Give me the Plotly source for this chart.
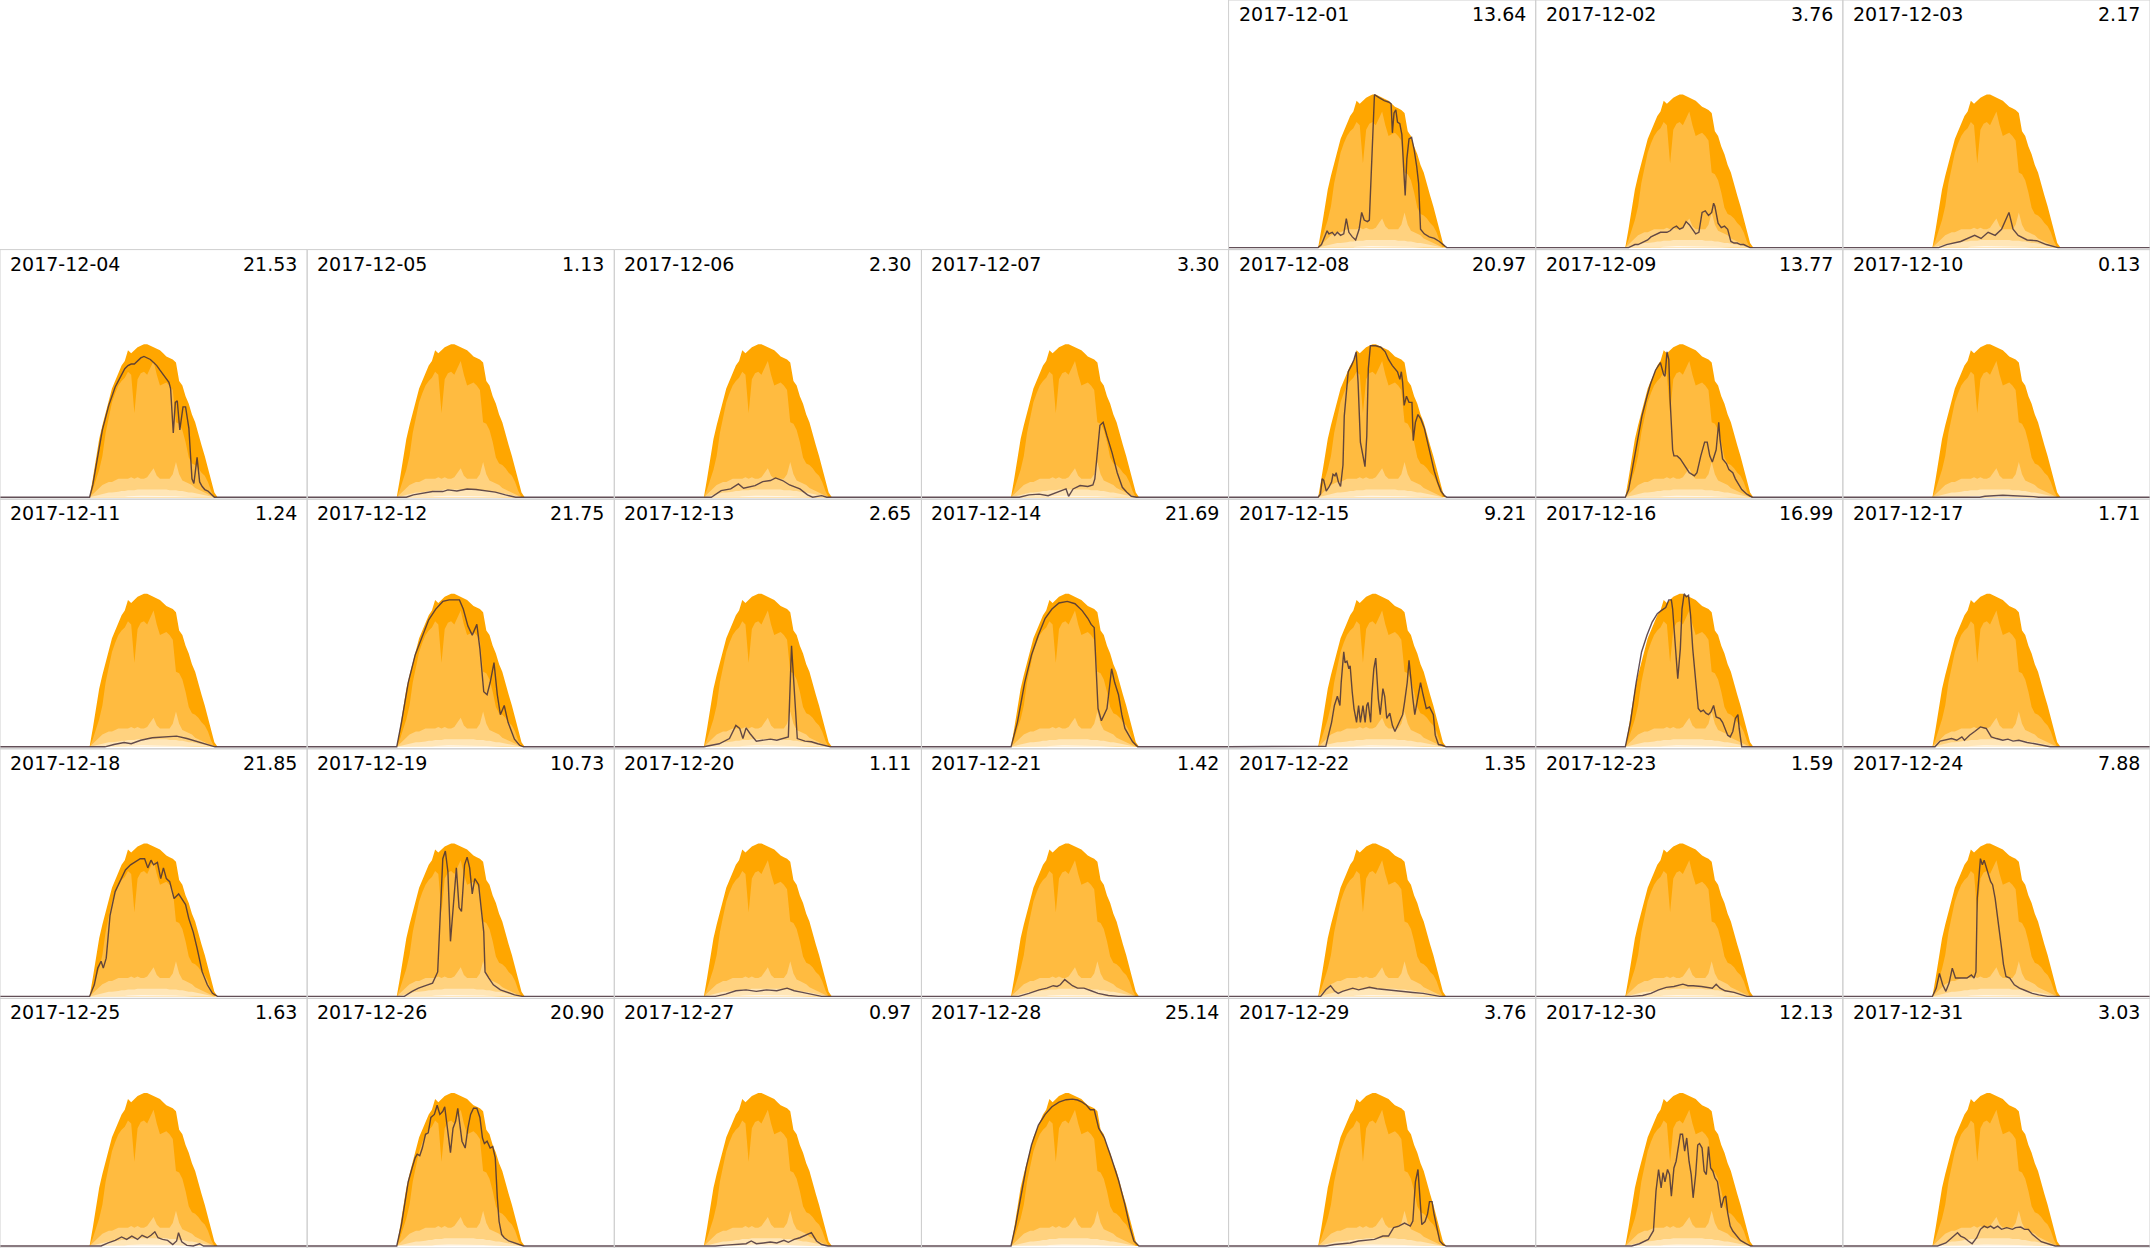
import plotly.graph_objects as go

W, H = 2150, 1248
NCOL, NROW = 7, 5
FIRST_COL = 4  # 2017-12-01 is a Friday (Mon=0)

dates = ["2017-12-01", "2017-12-02", "2017-12-03", "2017-12-04", "2017-12-05", "2017-12-06",
         "2017-12-07", "2017-12-08", "2017-12-09", "2017-12-10", "2017-12-11", "2017-12-12",
         "2017-12-13", "2017-12-14", "2017-12-15", "2017-12-16", "2017-12-17", "2017-12-18",
         "2017-12-19", "2017-12-20", "2017-12-21", "2017-12-22", "2017-12-23", "2017-12-24",
         "2017-12-25", "2017-12-26", "2017-12-27", "2017-12-28", "2017-12-29", "2017-12-30",
         "2017-12-31"]
totals = [13.64, 3.76, 2.17, 21.53, 1.13, 2.30, 3.30, 20.97, 13.77, 0.13, 1.24, 21.75, 2.65,
          21.69, 9.21, 16.99, 1.71, 21.85, 10.73, 1.11, 1.42, 1.35, 1.59, 7.88, 1.63, 20.90,
          0.97, 25.14, 3.76, 12.13, 3.03]

# envelope of the month (percent of peak), 15-minute grid
env_t = [7.0, 7.25, 7.5, 7.75, 8.0, 8.25, 8.5, 8.75, 9.0, 9.25, 9.5, 9.75, 10.0, 10.25, 10.5,
         10.75, 11.0, 11.25, 11.5, 11.75, 12.0, 12.25, 12.5, 12.75, 13.0, 13.25, 13.5, 13.75,
         14.0, 14.25, 14.5, 14.75, 15.0, 15.25, 15.5, 15.75, 16.0, 16.25, 16.5, 16.75, 17.0]
env_max = [0, 12, 25, 38, 47, 56, 63, 71, 76, 82, 86, 89, 96, 94, 96, 98, 99, 100, 100, 99, 98,
           97, 96, 94, 92, 91, 90, 88, 76, 73, 66, 61, 54, 49, 41, 34, 27, 19, 10, 3, 0]
env_hi = [0, 5, 12, 18, 27, 42, 52, 62, 68, 73, 76, 78, 82, 80, 55, 77, 81, 82, 80, 85, 89,
          80, 73, 74, 75, 73, 70, 49, 48, 44, 36, 26, 22, 21, 19, 16, 14, 10, 4, 0, 0]
env_mid = [0, 2, 4, 6, 8, 9, 10, 10, 11, 12, 12, 12, 12, 13, 12, 13, 12, 12, 13, 16, 19,
           14, 12, 12, 12, 12, 15, 23, 15, 11, 10, 9, 8, 6, 5, 4, 3, 2, 1, 0, 0]
env_lo = [0, 0.5, 1, 1.5, 2, 2.5, 3, 3, 3.5, 3.5, 4, 4, 4.5, 4.5, 4.5, 5, 5, 5, 5, 5, 5,
          5, 5, 5, 5, 4.5, 4.5, 4.5, 4, 4, 3.5, 3, 3, 2.5, 2, 1.5, 1, 0.5, 0, 0, 0]
env_min = [0, 0, 0, 0, 0, 0, 0, 0, 0, 0, 0, 0.3, 0.6, 0.8, 1, 1, 1, 1, 1, 1, 1,
           1, 1, 1, 1, 0.9, 0.8, 0.6, 0.5, 0.3, 0.2, 0, 0, 0, 0, 0, 0, 0, 0, 0, 0]

# daily profiles (hour of day, percent of peak)
d01_t = [7.0, 7.26, 7.7, 7.84, 8.1, 8.3, 8.5, 8.75, 9.0, 9.2, 9.4, 9.67, 9.93, 10.2, 10.4, 10.6,
         10.85, 11.0, 11.2, 11.4, 11.76, 12.16, 12.54, 12.7, 12.8, 12.93, 13.07, 13.2, 13.38,
         13.54, 13.7, 13.8, 13.93, 14.1, 14.3, 14.5, 14.7, 14.85, 15.0, 15.29, 15.68, 16.08,
         16.47, 16.86, 17.05]
d01_v = [0, 2, 11, 9, 10, 8, 10, 8, 9, 19, 10, 7, 5, 12, 23, 18, 17, 18, 66, 100, 98, 96, 95,
         94, 75, 88, 90, 82, 81, 74, 49, 34, 58, 71, 72, 64, 53, 42, 12, 9, 7, 6, 4, 1, 0]
d02_t = [7.25, 7.5, 7.75, 8.0, 8.25, 8.5, 8.75, 9.0, 9.25, 9.5, 9.75, 10.0, 10.25, 10.5, 10.75,
         11.0, 11.25, 11.5, 11.75, 12.0, 12.25, 12.5, 12.75, 13.0, 13.25, 13.5, 13.75, 13.9,
         14.0, 14.25, 14.5, 14.75, 15.0, 15.25, 15.5, 15.75, 16.0, 16.25, 16.5, 16.75]
d02_v = [0, 1, 2, 2, 3, 4, 5, 7, 8, 9, 10, 10, 10, 11, 13, 14, 12, 13, 17, 15, 12, 9, 10, 23,
         24, 21, 23, 29, 27, 16, 13, 14, 12, 4, 3, 3, 2, 2, 1, 0]
d03_t = [7.5, 8.1, 9.2, 10.3, 10.8, 11.35, 11.9, 12.4, 12.75, 12.98, 13.3, 13.7, 14.4, 15.15,
         15.9, 16.8]
d03_v = [0, 2, 4, 8, 6, 10, 8, 12, 19, 23, 12, 8, 5, 4.5, 2, 0]
d04_t = [7.0, 7.25, 7.5, 7.75, 8.0, 8.25, 8.5, 8.75, 9.0, 9.25, 9.5, 9.75, 10.0, 10.25, 10.5,
         10.75, 11.0, 11.25, 11.5, 11.75, 12.0, 12.25, 12.5, 12.75, 13.0, 13.2, 13.33, 13.54,
         13.7, 13.85, 14.05, 14.3, 14.5, 14.76, 15.0, 15.15, 15.4, 15.6, 15.8, 16.0, 16.25,
         16.5, 16.75]
d04_v = [0, 8, 21, 34, 44, 52, 60, 66, 72, 76, 80, 84, 86, 87, 87, 89, 91, 92, 91, 90, 88, 86,
         83, 80, 77, 75, 71, 42, 62, 63, 44, 59, 59, 45, 12, 9, 26, 10, 7, 5, 4, 2, 0]
d05_t = [7.75, 8.3, 9.1, 9.8, 10.6, 11.0, 11.7, 12.5, 13.2, 14.0, 14.7, 15.5, 16.05, 16.3]
d05_v = [0, 1.5, 2.8, 3.7, 3.7, 4.8, 4.1, 5.4, 5, 4.3, 3.3, 1.5, 0.4, 0]
d06_t = [7.58, 8.35, 9.1, 9.7, 10.1, 11.0, 11.6, 12.2, 12.6, 13.15, 13.7, 14.5, 15.1, 15.5,
         16.2, 16.6]
d06_v = [0, 4.3, 5.4, 8.7, 5.9, 7.6, 10.2, 10.9, 12.6, 10.9, 8, 5.4, 1.5, 0, 1, 0]
d07_t = [7.65, 8.4, 9.2, 9.9, 10.7, 11.3, 11.5, 11.85, 12.4, 13.0, 13.4, 13.55, 13.95, 14.2,
         14.5, 14.9, 15.3, 15.7, 16.05, 16.4, 16.8]
d07_v = [0, 1.5, 2, 1, 3.3, 5.4, 0.6, 5.4, 7.6, 7, 8, 12, 47, 49, 40, 29, 16, 6.5, 3.3, 0.6, 0]
d08_t = [7.0, 7.18, 7.31, 7.44, 7.63, 7.84, 8.05, 8.16, 8.31, 8.41, 8.58, 8.75, 8.94, 9.04, 9.2,
         9.35, 9.6, 9.8, 9.97, 10.12, 10.3, 10.5, 10.66, 10.8, 10.92, 11.08, 11.5, 11.9, 12.24,
         12.5, 12.8, 13.2, 13.38, 13.5, 13.6, 13.72, 13.9, 14.1, 14.33, 14.43, 14.6, 14.8,
         15.03, 15.3, 15.55, 15.8, 16.07, 16.33, 16.6, 16.86, 17.05]
d08_v = [0, 2, 12, 11, 4, 6.5, 10, 15, 14, 16, 10, 7, 21, 53, 71, 82, 86, 90, 95, 75, 36, 27,
         20, 40, 84, 99, 99, 98, 95, 90, 86, 82, 77, 82, 75, 60, 66, 62, 62, 37, 49, 54, 51, 45,
         36, 27, 17, 10, 4, 1, 0]
d09_t = [7.0, 7.26, 7.66, 7.9, 8.3, 8.7, 8.97, 9.36, 9.6, 9.74, 10.0, 10.1, 10.26, 10.4, 10.5,
         10.7, 10.8, 11.05, 11.3, 11.6, 12.0, 12.4, 12.6, 12.9, 13.2, 13.4, 13.6, 13.8, 14.1,
         14.3, 14.4, 14.6, 14.9, 15.1, 15.4, 15.6, 16.1, 16.5, 16.9]
d09_v = [0, 5, 23, 36, 53, 66, 74, 83, 86, 88, 80, 79, 95, 90, 64, 31, 27, 27, 25, 21, 16, 14,
         16, 27, 36, 36, 27, 23, 31, 49, 38, 25, 22, 18, 16, 12, 5, 2, 0]
d10_t = [10.7, 11.1, 11.7, 12.5, 13.3, 14.1, 14.9, 15.3]
d10_v = [0, 0.6, 1, 1.3, 1, 0.8, 0.4, 0]
d11_t = [8.2, 8.9, 9.7, 10.25, 11.0, 11.9, 12.7, 13.8, 14.6, 15.7, 16.4, 16.8]
d11_v = [0, 1.5, 2.8, 2, 4.3, 5.9, 6.5, 7, 5.4, 2.8, 0.8, 0]
d12_t = [7.0, 7.37, 7.9, 8.44, 8.98, 9.5, 10.05, 10.6, 11.1, 11.9, 12.2, 12.56, 12.9, 13.26,
         13.5, 13.8, 14.06, 14.3, 14.6, 14.86, 15.1, 15.4, 15.7, 16.2, 16.6, 16.9]
d12_v = [0, 16, 42, 60, 72, 83, 90, 95, 96, 96, 90, 79, 73, 80, 64, 36, 34, 42, 55, 34, 21, 27,
         16, 5, 1, 0]
d13_t = [7.0, 7.6, 8.2, 9.0, 9.5, 9.8, 10.05, 10.3, 10.6, 11.1, 11.65, 12.2, 12.7, 13.25, 13.6,
         13.85, 14.05, 14.3, 14.9, 15.4, 15.9, 16.5, 16.9]
d13_v = [0, 1, 2, 5.4, 14, 12, 5.4, 12.4, 8.7, 3.7, 4.3, 5, 4.3, 5.4, 6.5, 66, 42, 5.4, 3.7,
         3.3, 2, 0.6, 0]
d14_t = [7.0, 7.5, 8.07, 8.6, 9.14, 9.67, 10.2, 10.75, 11.4, 12.0, 12.56, 13.0, 13.26, 13.5,
         13.8, 14.06, 14.3, 14.5, 14.86, 15.1, 15.4, 15.66, 15.9, 16.5, 16.9]
d14_v = [0, 16, 42, 60, 73, 84, 90, 94, 95, 93.5, 89, 84, 80, 78, 25, 17, 21, 25, 51, 42, 34,
         21, 12, 3.3, 0]
d15_t = [7.0, 7.6, 8.05, 8.27, 8.5, 8.7, 8.8, 9.0, 9.1, 9.25, 9.4, 9.5, 9.66, 9.8, 10.0, 10.16,
         10.3, 10.5, 10.67, 10.8, 10.9, 11.1, 11.2, 11.35, 11.5, 11.7, 11.85, 12.06, 12.2, 12.36,
         12.6, 12.8, 13.0, 13.3, 13.6, 13.75, 13.96, 14.1, 14.25, 14.4, 14.55, 14.8, 15.0, 15.2,
         15.45, 15.7, 16.0, 16.15, 16.4, 16.7, 17.0]
d15_v = [0, 0.4, 16, 27, 33, 27, 42, 62, 55, 56, 51, 53, 36, 25, 16, 27, 16, 27, 16, 27, 29, 16,
         34, 51, 58, 31.5, 21, 38, 33, 18.5, 22, 14, 10, 16, 21, 29, 42, 56.5, 42, 31.5, 21,
         31.5, 42, 34, 25, 26, 21, 7.6, 1.5, 1, 0]
d16_t = [7.0, 7.4, 7.85, 8.27, 8.7, 9.1, 9.5, 9.8, 10.16, 10.4, 10.6, 10.7, 10.9, 11.1, 11.3,
         11.43, 11.6, 11.77, 11.94, 12.1, 12.27, 12.5, 12.7, 12.9, 13.1, 13.3, 13.5, 13.7, 13.9,
         14.1, 14.4, 14.6, 14.8, 15.0, 15.2, 15.4, 15.6, 15.8, 15.9, 16.1]
d16_v = [0, 16, 42, 62, 73, 81.5, 87, 89, 91, 96, 96, 90, 64, 44.5, 64, 90, 100, 98, 99, 86, 64,
         42, 25, 23, 24, 22, 21, 23, 27, 19.5, 18.5, 16, 12, 7.6, 6.5, 10, 18.5, 21, 12, 0]
d17_t = [7.2, 7.6, 8.0, 8.5, 8.9, 9.3, 9.5, 9.9, 10.3, 10.75, 11.2, 11.6, 12.0, 12.5, 12.9,
         13.3, 13.75, 14.4, 15.0, 15.6, 16.2]
d17_v = [0, 3.7, 4.3, 5.4, 4.3, 6.5, 4.3, 7.6, 10, 13, 12, 6.5, 5.4, 4.3, 5, 3.7, 4.3, 2.8, 2,
         1, 0]
d18_t = [7.0, 7.37, 7.64, 7.9, 8.07, 8.3, 8.6, 9.0, 9.35, 9.8, 10.2, 10.6, 10.96, 11.3, 11.55,
         11.8, 12.0, 12.3, 12.56, 12.77, 13.0, 13.26, 13.6, 13.96, 14.2, 14.5, 14.75, 15.1, 15.4,
         15.8, 16.2, 16.6, 17.0]
d18_v = [0, 7.6, 18.5, 23, 18.5, 25, 53, 68.5, 75, 82.6, 86, 88, 90, 90, 84, 89, 86, 87.6, 77,
         84, 77, 75, 64, 67, 64, 60, 51, 42, 31.5, 16, 7.6, 2, 0]
d19_t = [7.6, 8.2, 8.7, 9.25, 9.8, 10.2, 10.4, 10.6, 10.8, 11.0, 11.2, 11.45, 11.66, 11.87,
         12.06, 12.3, 12.5, 12.7, 12.9, 13.1, 13.4, 13.8, 13.9, 14.2, 14.55, 15.1, 15.6, 16.2,
         16.8]
d19_v = [0, 3.3, 5.4, 7, 8.7, 16, 53, 90, 95, 81.5, 36, 64, 84, 58, 55.5, 86, 91, 84, 67, 77,
         73, 42, 16, 12, 7.6, 4.3, 2.6, 1, 0]
d20_t = [7.9, 8.7, 9.5, 10.3, 11.1, 11.9, 12.7, 13.5, 14.06, 14.6, 15.4, 16.2]
d20_v = [0, 1.5, 3.7, 4.3, 3.3, 4.3, 3.7, 5.4, 3.7, 2.8, 1.5, 0]
d21_t = [7.6, 8.4, 9.2, 9.8, 10.3, 10.6, 10.85, 11.2, 11.5, 11.8, 12.2, 12.7, 13.26, 13.8,
         14.6, 15.4]
d21_v = [0, 2, 4.3, 5.4, 7, 6.5, 7.6, 11, 8.7, 7, 5.4, 5.4, 3.7, 2, 0.6, 0]
d22_t = [7.2, 7.6, 7.97, 8.27, 8.56, 8.9, 9.3, 9.7, 10.16, 10.6, 11.0, 11.6, 12.3, 12.9, 13.5,
         14.4, 15.2, 16.1, 16.5]
d22_v = [0, 4.3, 7, 3.7, 2, 3.3, 4.3, 5.4, 4.3, 5.4, 6, 5, 4.3, 3.7, 3.3, 2.6, 2, 0.4, 0]
d23_t = [7.5, 8.35, 9.0, 9.6, 10.2, 10.8, 11.5, 11.9, 12.3, 12.95, 13.4, 13.8, 14.1, 14.4,
         14.8, 15.5, 16.1, 16.5]
d23_v = [0, 0.6, 2, 4.3, 5.9, 6.5, 8, 7, 7, 6.5, 5.9, 5.4, 8, 5.4, 3.7, 2.6, 1, 0]
d24_t = [7.0, 7.3, 7.55, 7.8, 8.05, 8.3, 8.55, 8.8, 9.04, 9.4, 9.7, 10.04, 10.25, 10.4, 10.5,
         10.75, 10.9, 11.04, 11.2, 11.4, 11.55, 11.7, 11.9, 12.1, 12.2, 12.4, 12.55, 12.75,
         13.04, 13.4, 13.8, 14.3, 14.8, 15.3, 16.0]
d24_v = [0, 5.4, 15, 7.6, 3.3, 8.7, 18.5, 12, 12, 12.4, 12, 14, 12, 16, 64, 90, 86, 89, 84, 79,
         75, 73, 64, 53, 44.5, 31.5, 21, 13, 12, 7.6, 5.4, 3.7, 2, 1, 0]
d25_t = [7.9, 8.45, 9.0, 9.5, 9.9, 10.3, 10.75, 11.1, 11.5, 11.8, 12.1, 12.35, 12.7, 13.1,
         13.5, 13.8, 13.95, 14.2, 14.6, 15.1, 15.6, 15.9]
d25_v = [0, 2, 3.7, 5.9, 4.3, 6.5, 4.3, 7, 5.4, 7, 9.3, 5.4, 4.3, 3.7, 1, 3.3, 8.7, 2.8, 0.4,
         0, 1.5, 0]
d26_t = [7.0, 7.37, 7.64, 7.9, 8.2, 8.44, 8.6, 8.8, 9.0, 9.25, 9.46, 9.67, 9.94, 10.16, 10.37,
         10.6, 10.75, 10.96, 11.2, 11.4, 11.6, 11.77, 11.9, 12.1, 12.35, 12.56, 12.77, 13.0,
         13.26, 13.5, 13.7, 13.85, 14.06, 14.3, 14.5, 14.7, 14.86, 15.0, 15.2, 15.4, 15.75,
         16.2, 16.6, 16.9]
d26_v = [0, 14, 29, 42, 51, 57.6, 60, 59, 64, 73, 74, 84, 86, 92, 86, 88, 91, 77, 61, 77, 81.5,
         90, 81.5, 68.5, 64, 77, 86, 90, 90, 84, 70.6, 67, 68.5, 64, 65, 57.6, 31.5, 16, 7.6,
         5.4, 3.3, 2, 0.6, 0]
d27_t = [7.9, 8.7, 9.5, 10.3, 10.7, 11.1, 11.65, 12.2, 12.7, 13.26, 13.6, 14.06, 14.5, 14.9,
         15.4, 15.8, 16.2, 16.7]
d27_v = [0, 0.6, 1, 1.5, 3.3, 1.5, 2, 2.6, 2, 3.7, 2.4, 4.3, 5.4, 7, 8.7, 3.3, 1, 0]
d28_t = [7.0, 7.37, 7.75, 8.18, 8.6, 9.14, 9.67, 10.2, 10.75, 11.3, 11.8, 12.2, 12.56, 12.9,
         13.2, 13.5, 13.85, 14.3, 14.86, 15.4, 15.9, 16.3, 16.6, 17.0]
d28_v = [0, 14, 31.5, 51, 66, 79, 86, 91, 94, 95.6, 96, 95.4, 94, 92, 89, 89, 77, 70.6, 57, 43,
         27, 12, 3.3, 0]
d29_t = [7.6, 8.27, 8.9, 9.5, 10.16, 10.8, 11.4, 12.06, 12.5, 12.9, 13.3, 13.75, 13.96, 14.2,
         14.4, 14.6, 14.8, 14.9, 15.1, 15.35, 15.55, 15.7, 15.9, 16.05, 16.3, 16.5, 16.75, 17.0]
d29_v = [0, 1, 1.5, 2, 3.3, 3.7, 4.3, 6.5, 6.5, 12, 13, 15, 14, 13, 16.3, 42, 50, 38, 14, 16,
         21, 29, 29, 21, 10, 3.3, 1, 0]
d30_t = [7.5, 8.1, 8.8, 9.2, 9.4, 9.6, 9.8, 9.95, 10.1, 10.3, 10.46, 10.6, 10.8, 10.97, 11.1,
         11.3, 11.47, 11.64, 11.8, 11.98, 12.15, 12.3, 12.5, 12.66, 12.8, 13.0, 13.16, 13.33,
         13.5, 13.67, 13.84, 14.0, 14.2, 14.35, 14.5, 14.7, 14.85, 15.0, 15.2, 15.4, 15.7, 16.0,
         16.4, 16.8]
d30_v = [0, 1.5, 4.3, 10, 36, 50, 38, 48, 42, 50, 46.7, 32.6, 51, 55.4, 62, 73, 73, 62, 70.6,
         55.4, 46.7, 31.5, 46.7, 66, 67, 64, 49, 46.7, 65, 51, 49, 44.6, 42, 33.7, 25, 31.5,
         32.6, 21.7, 13, 9.8, 6.5, 3.7, 1.7, 0]
d31_t = [7.4, 8.05, 8.5, 8.8, 8.96, 9.2, 9.5, 9.8, 10.1, 10.46, 10.75, 11.04, 11.3, 11.55, 11.8,
         12.1, 12.4, 12.8, 13.25, 13.5, 13.9, 14.2, 14.5, 14.8, 15.1, 15.5, 16.2, 16.6]
d31_v = [0, 2, 5.4, 7.6, 8.7, 6.5, 5.4, 3.3, 1.5, 5.4, 10.9, 13, 12, 13, 11.5, 13, 10.9, 12,
         10.9, 12, 12.4, 10.9, 10.9, 7.6, 5.4, 2.8, 1, 0]

day_t = [d01_t, d02_t, d03_t, d04_t, d05_t, d06_t, d07_t, d08_t, d09_t, d10_t, d11_t, d12_t,
         d13_t, d14_t, d15_t, d16_t, d17_t, d18_t, d19_t, d20_t, d21_t, d22_t, d23_t, d24_t,
         d25_t, d26_t, d27_t, d28_t, d29_t, d30_t, d31_t]
day_v = [d01_v, d02_v, d03_v, d04_v, d05_v, d06_v, d07_v, d08_v, d09_v, d10_v, d11_v, d12_v,
         d13_v, d14_v, d15_v, d16_v, d17_v, d18_v, d19_v, d20_v, d21_v, d22_v, d23_v, d24_v,
         d25_v, d26_v, d27_v, d28_v, d29_v, d30_v, d31_v]

bands = [(env_max, "#ffa600"), (env_hi, "#ffbb40"), (env_mid, "#ffd27f"),
         (env_lo, "#ffe6b8"), (env_min, "#fff6e8")]
LINE_COLOR = "rgba(70,48,58,0.85)"
Y_RANGE = [-1.3, 161.8]

fig = go.Figure()
shapes = []
annotations = []
px_x = 1.0 / W
px_y = 1.0 / H

for i, label in enumerate(dates):
    pos = FIRST_COL + i
    col, row = pos % NCOL, pos // NCOL
    x0, x1 = col / NCOL, (col + 1) / NCOL
    y1 = 1 - row / NROW
    y0 = 1 - (row + 1) / NROW
    n = i + 1
    xa = "x" if n == 1 else f"x{n}"
    ya = "y" if n == 1 else f"y{n}"
    for vals, color in bands:
        fig.add_trace(go.Scatter(x=[0] + env_t + [24], y=[0] + vals + [0], mode="lines",
                                 line=dict(width=0, color=color), fill="tozeroy",
                                 fillcolor=color, xaxis=xa, yaxis=ya, hoverinfo="skip",
                                 showlegend=False))
    fig.add_trace(go.Scatter(x=[0] + day_t[i] + [24], y=[0] + day_v[i] + [0], mode="lines",
                             line=dict(width=1.4, color=LINE_COLOR), xaxis=xa, yaxis=ya,
                             showlegend=False))
    axis_suffix = "" if n == 1 else str(n)
    fig.layout["xaxis" + axis_suffix] = dict(domain=[x0, x1], range=[0, 24], visible=False,
                                             anchor=ya, fixedrange=True)
    fig.layout["yaxis" + axis_suffix] = dict(domain=[y0, y1], range=Y_RANGE, visible=False,
                                             anchor=xa, fixedrange=True)
    shapes.append(dict(type="rect", xref="paper", yref="paper", x0=x0, x1=x1, y0=y0, y1=y1,
                       line=dict(color="#cfcfcf", width=1), layer="above"))
    annotations.append(dict(text=label, xref="paper", yref="paper", x=x0 + 8 * px_x,
                            y=y1 - 1 * px_y, xanchor="left", yanchor="top", showarrow=False,
                            font=dict(family="DejaVu Sans", size=19, color="#000000")))
    annotations.append(dict(text=f"{totals[i]:.2f}", xref="paper", yref="paper",
                            x=x1 - 8 * px_x, y=y1 - 1 * px_y, xanchor="right", yanchor="top",
                            showarrow=False,
                            font=dict(family="DejaVu Sans", size=19, color="#000000")))

fig.update_layout(width=W, height=H, margin=dict(l=0, r=0, t=0, b=0),
                  paper_bgcolor="white", plot_bgcolor="white",
                  shapes=shapes, annotations=annotations, showlegend=False)

fig.write_html("out.html", config={"displayModeBar": False},
               post_script="document.body.style.margin='0';")
